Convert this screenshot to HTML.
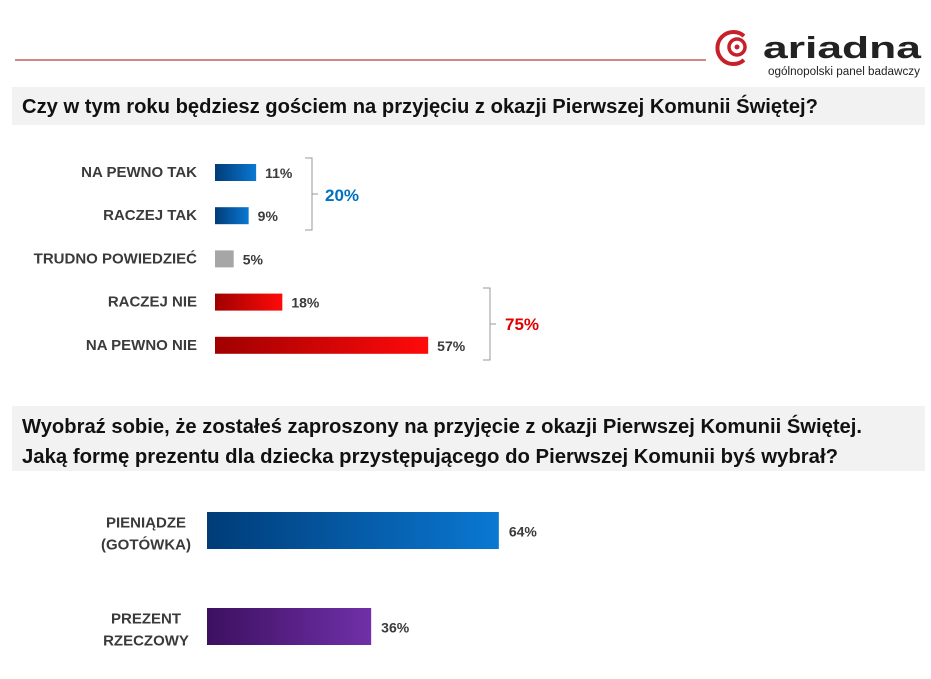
<!DOCTYPE html>
<html><head><meta charset="utf-8"><style>
html,body{margin:0;padding:0;background:#fff;}
svg{display:block;font-family:"Liberation Sans",sans-serif;}
</style></head><body>
<svg width="931" height="679" viewBox="0 0 931 679">
<defs>
<linearGradient id="gBlue" x1="0" x2="1"><stop offset="0" stop-color="#003c78"/><stop offset="1" stop-color="#0a78d2"/></linearGradient>
<linearGradient id="gRed" x1="0" x2="1"><stop offset="0" stop-color="#a00000"/><stop offset="1" stop-color="#ff0a0a"/></linearGradient>
<linearGradient id="gGray" x1="0" x2="1"><stop offset="0" stop-color="#a6a6a6"/><stop offset="1" stop-color="#a6a6a6"/></linearGradient>
<linearGradient id="gPurple" x1="0" x2="1"><stop offset="0" stop-color="#3c1060"/><stop offset="1" stop-color="#7030a8"/></linearGradient>
</defs>
<line x1="15" y1="60" x2="706" y2="60" stroke="#b8403d" stroke-width="1.3"/>
<g>
<path d="M744 36 A16 16 0 1 0 744 60" fill="none" stroke="#c8202a" stroke-width="4"/>
<circle cx="737" cy="47" r="8" fill="none" stroke="#c8202a" stroke-width="3.5"/>
<circle cx="737" cy="47" r="2.5" fill="#c8202a"/>
<text x="763" y="58" font-size="31" font-weight="bold" fill="#222" textLength="158" lengthAdjust="spacingAndGlyphs">ariadna</text>
<text x="768" y="75" font-size="11.5" fill="#222" textLength="152" lengthAdjust="spacingAndGlyphs">ogólnopolski panel badawczy</text>
</g>
<rect x="12" y="87" width="913" height="38" fill="#f2f2f2"/>
<text x="22" y="113" font-size="20" font-weight="bold" fill="#111" textLength="796" lengthAdjust="spacingAndGlyphs">Czy w tym roku będziesz gościem na przyjęciu z okazji Pierwszej Komunii Świętej?</text>
<rect x="12" y="406" width="913" height="65" fill="#f2f2f2"/>
<text x="22" y="433" font-size="20" font-weight="bold" fill="#111" textLength="840" lengthAdjust="spacingAndGlyphs">Wyobraź sobie, że zostałeś zaproszony na przyjęcie z okazji Pierwszej Komunii Świętej.</text>
<text x="22" y="463" font-size="20" font-weight="bold" fill="#111" textLength="816" lengthAdjust="spacingAndGlyphs">Jaką formę prezentu dla dziecka przystępującego do Pierwszej Komunii byś wybrał?</text>
<g id="chart1"></g>
<g id="chart2"></g>
<g stroke="#999" fill="none" stroke-width="1">
<path d="M305 158 H312 V230 H305 M312 194 H318"/>
</g>
<text x="325" y="201" font-size="17" font-weight="bold" fill="#0070c0">20%</text>
<g stroke="#999" fill="none" stroke-width="1">
<path d="M483 288 H490 V360 H483 M490 324 H496"/>
</g>
<text x="505" y="330" font-size="17" font-weight="bold" fill="#e00000">75%</text>
</svg>
<script>
const NS='http://www.w3.org/2000/svg';
const cats1=['NA PEWNO TAK','RACZEJ TAK','TRUDNO POWIEDZIEĆ','RACZEJ NIE','NA PEWNO NIE'];
const vals1=[11,9,5,18,57];
const fills1=['gBlue','gBlue','gGray','gRed','gRed'];
const cats2=[['PIENIĄDZE','(GOTÓWKA)'],['PREZENT','RZECZOWY']];
const vals2=[64,36];
const fills2=['gBlue','gPurple'];
function mk(t,a){const e=document.createElementNS(NS,t);for(const k in a)e.setAttribute(k,a[k]);return e;}
const x1=v=>215+v*3.74, y1=i=>172+i*43.2;
const c1=document.getElementById('chart1');
vals1.forEach((v,i)=>{
 const cy=y1(i);
 const r=mk('rect',{x:215,y:cy-8,width:x1(v)-215,height:17,fill:'url(#'+fills1[i]+')'});
 
 
 c1.appendChild(r);
 const l=mk('text',{x:197,y:cy+5,'font-size':15,'font-weight':'bold',fill:'#3a3a3a','text-anchor':'end'});
 l.textContent=cats1[i];
 
 
 c1.appendChild(l);
 const p=mk('text',{x:x1(v)+9,y:cy+6,'font-size':14,'font-weight':'bold',fill:'#3a3a3a'});
 p.textContent=v+'%';
 
 
 c1.appendChild(p);
});
const x2=v=>207+v*4.56, y2=i=>530.5+i*96;
const c2=document.getElementById('chart2');
vals2.forEach((v,i)=>{
 const cy=y2(i);
 const r=mk('rect',{x:207,y:cy-18.5,width:x2(v)-207,height:37,fill:'url(#'+fills2[i]+')'});
 
 
 c2.appendChild(r);
 cats2[i].forEach((s,j)=>{
  const l=mk('text',{x:146,y:cy-3+j*22,'font-size':15,'font-weight':'bold',fill:'#3a3a3a','text-anchor':'middle'});
  l.textContent=s;
  
  
  c2.appendChild(l);
 });
 const p=mk('text',{x:x2(v)+10,y:cy+6,'font-size':14,'font-weight':'bold',fill:'#3a3a3a'});
 p.textContent=v+'%';
 
 
 c2.appendChild(p);
});
</script>
</body></html>
